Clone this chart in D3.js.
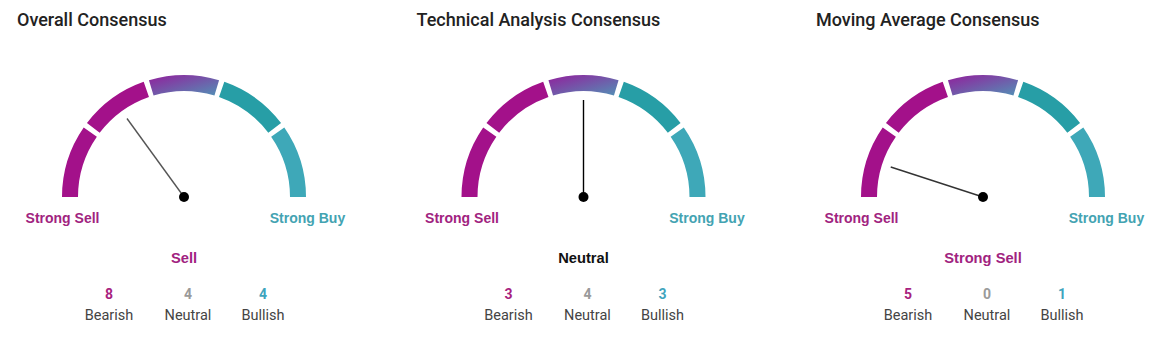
<!DOCTYPE html>
<html>
<head>
<meta charset="utf-8">
<script src="https://cdn.jsdelivr.net/npm/d3@7"></script>
<style>
  html, body { margin: 0; padding: 0; background: #fff; }
  svg { display: block; font-family: Roboto, "Noto Sans", sans-serif; }
  .lbl { font-family: "Liberation Sans", Arial, sans-serif; }
</style>
</head>
<body>
<svg id="chart" width="1167" height="347"></svg>
<script>
// ---- data ----
const titles = ["Overall Consensus", "Technical Analysis Consensus", "Moving Average Consensus"];
const levels = ["Strong Sell", "Sell", "Neutral", "Buy", "Strong Buy"];
const needleLevel = [1, 2, 0];            // index into levels
const bearish = [8, 3, 5];
const neutral = [4, 4, 0];
const bullish = [4, 3, 1];
const countLabels = ["Bearish", "Neutral", "Bullish"];
const segmentColors = ["#a3118a", "#a3118a", "url(#midGrad)", "#279ea6", "#3ea8b8"];

// ---- layout ----
const svg = d3.select("#chart");
const cx = d3.scaleLinear().domain([0, 2]).range([184, 983]);
const cy = 197;
const rOuter = 122, rInner = 106;
const gapDeg = 2.6;

const defs = svg.append("defs");
const g1 = defs.append("linearGradient").attr("id", "midGrad")
  .attr("x1", "0").attr("y1", "0").attr("x2", "1").attr("y2", "1");
g1.append("stop").attr("offset", "0%").attr("stop-color", "#921f9c");
g1.append("stop").attr("offset", "100%").attr("stop-color", "#5390b6");

const segAngle = d3.scaleLinear().domain([0, 5]).range([-90, 90]);
const needleAngle = d3.scaleLinear().domain([0, 4]).range([-72, 72]);
const rad = d => d * Math.PI / 180;
const arc = d3.arc().innerRadius(rInner).outerRadius(rOuter);

const countOffsets = [-75, 4, 79];
const countColors = ["#a81f80", "#9a9a9a", "#3fa4bd"];
const sellColor = "#a1237f", buyColor = "#43a3b2";
const needleColors = ["#555", "#000", "#333"];

titles.forEach((t, i) => {
  const x = cx(i);
  const g = svg.append("g");

  g.append("text").attr("x", x - 167).attr("y", 25.5)
    .attr("font-size", 18).attr("font-weight", 500).attr("fill", "#222")
    .text(t);

  const gauge = g.append("g").attr("transform", `translate(${x},${cy})`);
  gauge.selectAll("path.seg").data(segmentColors).join("path")
    .attr("class", "seg")
    .attr("d", (c, k) => arc({
      startAngle: rad(segAngle(k) + (k > 0 ? gapDeg / 2 : 0)),
      endAngle: rad(segAngle(k + 1) - (k < 4 ? gapDeg / 2 : 0))
    }))
    .attr("fill", c => c);

  const a = rad(needleAngle(needleLevel[i]));
  const len = 97;
  gauge.append("line")
    .attr("x1", 0).attr("y1", 0)
    .attr("x2", len * Math.sin(a)).attr("y2", -len * Math.cos(a))
    .attr("stroke", needleColors[i]).attr("stroke-width", 1.4);
  gauge.append("circle").attr("r", 5).attr("fill", "#000");

  g.append("text").attr("class", "lbl").attr("x", x - 121.5).attr("y", 222.5).attr("text-anchor", "middle")
    .attr("font-size", 14).attr("font-weight", 700).attr("fill", sellColor)
    .text(levels[0]);
  g.append("text").attr("class", "lbl").attr("x", x + 123.5).attr("y", 222.5).attr("text-anchor", "middle")
    .attr("font-size", 14).attr("font-weight", 700).attr("fill", buyColor)
    .text(levels[4]);

  const lv = needleLevel[i];
  g.append("text").attr("class", "lbl").attr("x", x).attr("y", 263.3).attr("text-anchor", "middle")
    .attr("font-size", 14.7).attr("font-weight", 700)
    .attr("fill", lv < 2 ? sellColor : lv > 2 ? buyColor : "#111")
    .text(levels[lv]);

  const counts = [bearish[i], neutral[i], bullish[i]];
  counts.forEach((c, k) => {
    g.append("text").attr("x", x + countOffsets[k]).attr("y", 299.3).attr("text-anchor", "middle")
      .attr("font-size", 14).attr("font-weight", 700).attr("fill", countColors[k])
      .text(c);
    g.append("text").attr("x", x + countOffsets[k]).attr("y", 319.5).attr("text-anchor", "middle")
      .attr("font-size", 14.5).attr("font-weight", 400).attr("fill", "#444")
      .text(countLabels[k]);
  });
});
</script>
</body>
</html>
